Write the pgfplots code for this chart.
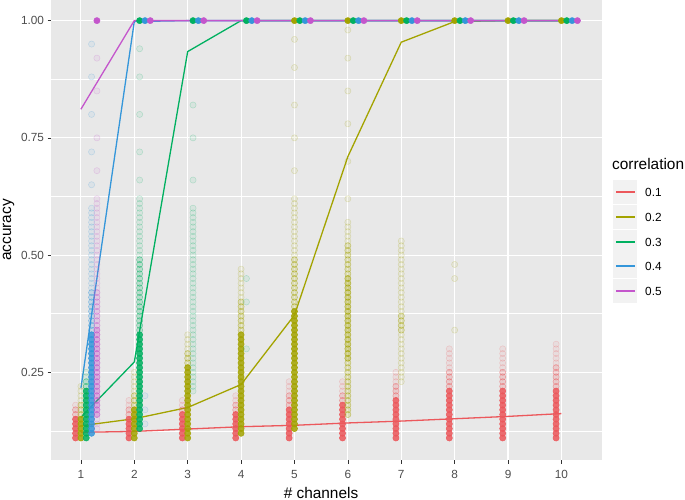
\documentclass[border=0pt]{standalone}
\usepackage{fontspec}
\setmainfont{Liberation Sans}
\usepackage{pgfplots}
\pgfplotsset{compat=1.18}

\definecolor{panel}{RGB}{232,232,232}
\definecolor{keybg}{RGB}{242,242,242}
\definecolor{ticktext}{RGB}{77,77,77}
\definecolor{tickmark}{RGB}{51,51,51}
\definecolor{cred}{RGB}{236,88,92}
\definecolor{colive}{RGB}{163,163,0}
\definecolor{cgreen}{RGB}{0,176,96}
\definecolor{cblue}{RGB}{52,150,218}
\definecolor{cpurple}{RGB}{196,86,204}

\pgfplotsset{
  dense/.style={only marks, mark=*, mark size=3.1bp,
    mark options={draw=#1, fill=#1, line width=0.5bp, draw opacity=0.95, fill opacity=0.85}},
  half/.style={only marks, mark=*, mark size=3.1bp,
    mark options={draw=#1, fill=#1, line width=0.5bp, draw opacity=0.7, fill opacity=0.4}},
  med/.style={only marks, mark=*, mark size=3.1bp,
    mark options={draw=#1, fill=#1, line width=0.5bp, draw opacity=0.5, fill opacity=0.2}},
  faint/.style={only marks, mark=*, mark size=3.1bp,
    mark options={draw=#1, fill=#1, line width=0.5bp, draw opacity=0.22, fill opacity=0.07}},
  top/.style={only marks, mark=*, mark size=3.1bp,
    mark options={draw=#1, fill=#1, line width=0.5bp}},
  ser/.style={#1, line width=1.3bp},
}

\begin{document}
\begin{tikzpicture}
\useasboundingbox (0,0) rectangle (685bp,500bp);
\begin{axis}[
  at={(51bp,40bp)}, anchor=south west,
  scale only axis, width=551bp, height=460bp,
  xmin=0.44, xmax=10.76, ymin=0.063, ymax=1.044,
  axis background/.style={fill=panel},
  axis line style={draw=none},
  xtick={1,2,3,4,5,6,7,8,9,10},
  xticklabels={1,2,3,4,5,6,7,8,9,10},
  ytick={0.25,0.5,0.75,1},
  yticklabels={0.25,0.50,0.75,1.00},
  minor ytick={0.125,0.375,0.625,0.875},
  grid=both,
  major grid style={white, line width=1.1bp},
  minor grid style={white, line width=0.55bp},
  tick align=outside, tick pos=left,
  major tick length=3.5bp, minor tick length=0bp,
  every tick/.style={tickmark, line width=0.55bp},
  ticklabel style={font=\fontsize{11.8bp}{14bp}\selectfont, text=ticktext},
  xticklabel style={yshift=-3bp},
]

% red, 0.1
\addplot[dense=cred] coordinates {
 (0.9,0.11)(0.9,0.12)(0.9,0.13)(0.9,0.14)(0.9,0.15)
 (1.9,0.11)(1.9,0.12)(1.9,0.13)(1.9,0.14)(1.9,0.15)
 (2.9,0.11)(2.9,0.12)(2.9,0.13)(2.9,0.14)(2.9,0.15)(2.9,0.16)
 (3.9,0.11)(3.9,0.12)(3.9,0.13)(3.9,0.14)(3.9,0.15)(3.9,0.16)
 (4.9,0.11)(4.9,0.12)(4.9,0.13)(4.9,0.14)(4.9,0.15)(4.9,0.16)(4.9,0.17)
 (5.9,0.11)(5.9,0.12)(5.9,0.13)(5.9,0.14)(5.9,0.15)(5.9,0.16)(5.9,0.17)(5.9,0.18)
 (6.9,0.11)(6.9,0.12)(6.9,0.13)(6.9,0.14)(6.9,0.15)(6.9,0.16)(6.9,0.17)(6.9,0.18)(6.9,0.19)
 (7.9,0.11)(7.9,0.12)(7.9,0.13)(7.9,0.14)(7.9,0.15)(7.9,0.16)(7.9,0.17)(7.9,0.18)(7.9,0.19)(7.9,0.20)(7.9,0.21)
 (8.9,0.11)(8.9,0.12)(8.9,0.13)(8.9,0.14)(8.9,0.15)(8.9,0.16)(8.9,0.17)(8.9,0.18)(8.9,0.19)(8.9,0.20)(8.9,0.21)
 (9.9,0.11)(9.9,0.12)(9.9,0.13)(9.9,0.14)(9.9,0.15)(9.9,0.16)(9.9,0.17)(9.9,0.18)(9.9,0.19)(9.9,0.20)(9.9,0.21)
};
\addplot[med=cred] coordinates {
 (0.9,0.16)(0.9,0.17)
 (1.9,0.16)(1.9,0.17)
 (2.9,0.17)
 (3.9,0.17)(3.9,0.18)
 (4.9,0.18)(4.9,0.19)(4.9,0.20)
 (5.9,0.19)(5.9,0.20)
 (6.9,0.20)(6.9,0.21)(6.9,0.22)
 (7.9,0.22)(7.9,0.23)(7.9,0.24)(7.9,0.25)
 (8.9,0.22)(8.9,0.23)(8.9,0.24)(8.9,0.25)
 (9.9,0.22)(9.9,0.23)(9.9,0.24)(9.9,0.25)(9.9,0.26)
};
\addplot[faint=cred] coordinates {
 (0.9,0.18)
 (1.9,0.18)(1.9,0.19)
 (2.9,0.18)(2.9,0.19)
 (3.9,0.19)(3.9,0.20)
 (4.9,0.21)(4.9,0.22)(4.9,0.23)
 (5.9,0.21)(5.9,0.22)(5.9,0.23)
 (6.9,0.23)(6.9,0.24)(6.9,0.25)
 (7.9,0.26)(7.9,0.27)(7.9,0.28)(7.9,0.29)(7.9,0.30)
 (8.9,0.26)(8.9,0.27)(8.9,0.28)(8.9,0.29)(8.9,0.30)
 (9.9,0.27)(9.9,0.28)(9.9,0.29)(9.9,0.30)(9.9,0.31)
};

% olive, 0.2
\addplot[dense=colive] coordinates {
 (1,0.11)(1,0.12)(1,0.13)(1,0.14)(1,0.15)
 (2,0.11)(2,0.12)(2,0.13)(2,0.14)(2,0.15)(2,0.16)(2,0.17)
 (3,0.11)(3,0.12)(3,0.13)(3,0.14)(3,0.15)(3,0.16)(3,0.17)(3,0.18)(3,0.19)(3,0.20)(3,0.21)(3,0.22)(3,0.23)(3,0.24)(3,0.25)(3,0.26)
 (4,0.12)(4,0.13)(4,0.14)(4,0.15)(4,0.16)(4,0.17)(4,0.18)(4,0.19)(4,0.20)(4,0.21)(4,0.22)(4,0.23)(4,0.24)(4,0.25)(4,0.26)(4,0.27)(4,0.28)(4,0.29)(4,0.30)(4,0.31)(4,0.32)(4,0.33)
 (5,0.13)(5,0.14)(5,0.15)(5,0.16)(5,0.17)(5,0.18)(5,0.19)(5,0.20)(5,0.21)(5,0.22)(5,0.23)(5,0.24)(5,0.25)(5,0.26)(5,0.27)(5,0.28)(5,0.29)(5,0.30)(5,0.31)(5,0.32)(5,0.33)(5,0.34)(5,0.35)(5,0.36)(5,0.37)(5,0.38)
};
\addplot[half=colive] coordinates {
 (6,0.28)(6,0.29)(6,0.30)(6,0.31)(6,0.32)(6,0.33)(6,0.34)(6,0.35)(6,0.36)(6,0.37)(6,0.38)(6,0.39)(6,0.40)(6,0.41)(6,0.42)(6,0.43)(6,0.44)(6,0.45)
};
\addplot[med=colive] coordinates {
 (1,0.16)(1,0.17)(1,0.18)
 (2,0.18)(2,0.19)(2,0.20)
 (3,0.27)(3,0.28)(3,0.29)
 (4,0.34)(4,0.35)(4,0.36)(4,0.37)(4,0.38)(4,0.39)(4,0.40)
 (5,0.39)(5,0.40)(5,0.41)(5,0.42)(5,0.43)(5,0.44)(5,0.45)(5,0.46)(5,0.47)(5,0.48)(5,0.49)
 (6,0.16)(6,0.17)(6,0.18)(6,0.19)(6,0.20)(6,0.21)(6,0.22)(6,0.23)(6,0.24)(6,0.25)(6,0.26)(6,0.27)
 (6,0.46)(6,0.47)(6,0.48)(6,0.49)(6,0.50)(6,0.51)(6,0.52)
 (7,0.34)(7,0.35)(7,0.36)(7,0.37)
};
\addplot[faint=colive] coordinates {
 (1,0.19)(1,0.20)(1,0.21)(1,0.22)
 (2,0.21)(2,0.22)(2,0.23)(2,0.24)(2,0.25)
 (3,0.30)(3,0.31)(3,0.32)(3,0.33)
 (4,0.41)(4,0.42)(4,0.43)(4,0.44)(4,0.45)(4,0.46)(4,0.47)
 (5,0.50)(5,0.51)(5,0.52)(5,0.53)(5,0.54)(5,0.55)(5,0.56)(5,0.57)(5,0.58)(5,0.59)(5,0.60)(5,0.61)(5,0.62)
 (5,0.68)(5,0.75)(5,0.82)(5,0.90)(5,0.96)
 (6,0.53)(6,0.54)(6,0.55)(6,0.56)(6,0.57)(6,0.62)(6,0.70)(6,0.78)(6,0.85)(6,0.92)(6,0.98)
 (7,0.23)(7,0.24)(7,0.25)(7,0.26)(7,0.27)(7,0.28)(7,0.29)(7,0.30)(7,0.31)(7,0.32)(7,0.33)
 (7,0.38)(7,0.39)(7,0.40)(7,0.41)(7,0.42)(7,0.43)(7,0.44)(7,0.45)(7,0.46)(7,0.47)(7,0.48)(7,0.49)(7,0.50)(7,0.51)(7,0.52)(7,0.53)
 (8,0.34)(8,0.45)(8,0.48)
};

% green, 0.3
\addplot[dense=cgreen] coordinates {
 (1.1,0.11)(1.1,0.12)(1.1,0.13)(1.1,0.14)(1.1,0.15)(1.1,0.16)(1.1,0.17)(1.1,0.18)(1.1,0.19)(1.1,0.20)(1.1,0.21)
 (2.1,0.13)(2.1,0.14)(2.1,0.15)(2.1,0.16)(2.1,0.17)(2.1,0.18)(2.1,0.19)(2.1,0.20)(2.1,0.21)(2.1,0.22)(2.1,0.23)
 (2.1,0.24)(2.1,0.25)(2.1,0.26)(2.1,0.27)(2.1,0.28)(2.1,0.29)(2.1,0.30)(2.1,0.31)(2.1,0.32)(2.1,0.33)
};
\addplot[med=cgreen] coordinates {
 (1.1,0.22)(1.1,0.23)
 (2.1,0.34)(2.1,0.35)(2.1,0.36)(2.1,0.37)(2.1,0.38)(2.1,0.39)(2.1,0.40)(2.1,0.41)(2.1,0.42)(2.1,0.43)(2.1,0.44)(2.1,0.45)(2.1,0.46)(2.1,0.47)(2.1,0.48)(2.1,0.49)
};
\addplot[faint=cgreen] coordinates {
 (1.1,0.24)(1.1,0.25)
 (2.1,0.50)(2.1,0.51)(2.1,0.52)(2.1,0.53)(2.1,0.54)(2.1,0.55)(2.1,0.56)(2.1,0.57)(2.1,0.58)(2.1,0.59)(2.1,0.60)(2.1,0.61)(2.1,0.62)
 (2.1,0.66)(2.1,0.72)(2.1,0.80)(2.1,0.88)(2.1,0.94)
 (3.1,0.21)(3.1,0.22)(3.1,0.23)(3.1,0.24)(3.1,0.25)(3.1,0.26)(3.1,0.27)(3.1,0.28)(3.1,0.29)(3.1,0.30)(3.1,0.31)(3.1,0.32)(3.1,0.33)(3.1,0.34)
 (3.1,0.35)(3.1,0.36)(3.1,0.37)(3.1,0.38)(3.1,0.39)(3.1,0.40)(3.1,0.41)(3.1,0.42)(3.1,0.43)(3.1,0.44)(3.1,0.45)(3.1,0.46)(3.1,0.47)
 (3.1,0.48)(3.1,0.49)(3.1,0.50)(3.1,0.51)(3.1,0.52)(3.1,0.53)(3.1,0.54)(3.1,0.55)(3.1,0.56)(3.1,0.57)(3.1,0.58)(3.1,0.59)(3.1,0.60)
 (3.1,0.66)(3.1,0.75)(3.1,0.82)
 (4.1,0.30)(4.1,0.40)(4.1,0.45)
};

% blue, 0.4
\addplot[dense=cblue] coordinates {
 (1.2,0.12)(1.2,0.13)(1.2,0.14)(1.2,0.15)(1.2,0.16)(1.2,0.17)(1.2,0.18)(1.2,0.19)(1.2,0.20)(1.2,0.21)(1.2,0.22)
 (1.2,0.23)(1.2,0.24)(1.2,0.25)(1.2,0.26)(1.2,0.27)(1.2,0.28)(1.2,0.29)(1.2,0.30)(1.2,0.31)(1.2,0.32)(1.2,0.33)
};
\addplot[med=cblue] coordinates {
 (1.2,0.34)(1.2,0.35)(1.2,0.36)(1.2,0.37)(1.2,0.38)(1.2,0.39)(1.2,0.40)(1.2,0.41)(1.2,0.42)
};
\addplot[faint=cblue] coordinates {
 (1.2,0.43)(1.2,0.44)(1.2,0.45)(1.2,0.46)(1.2,0.47)(1.2,0.48)(1.2,0.49)(1.2,0.50)(1.2,0.51)(1.2,0.52)(1.2,0.53)
 (1.2,0.54)(1.2,0.55)(1.2,0.56)(1.2,0.57)(1.2,0.58)(1.2,0.59)(1.2,0.60)
 (1.2,0.65)(1.2,0.72)(1.2,0.80)(1.2,0.88)(1.2,0.95)
 (2.2,0.14)(2.2,0.17)(2.2,0.20)
};

% purple, 0.5
\addplot[half=cpurple] coordinates {
 (1.3,0.16)(1.3,0.17)(1.3,0.18)(1.3,0.19)(1.3,0.20)(1.3,0.21)(1.3,0.22)(1.3,0.23)(1.3,0.24)(1.3,0.25)
 (1.3,0.26)(1.3,0.27)(1.3,0.28)(1.3,0.29)(1.3,0.30)(1.3,0.31)(1.3,0.32)(1.3,0.33)(1.3,0.34)
};
\addplot[med=cpurple] coordinates {
 (1.3,0.35)(1.3,0.36)(1.3,0.37)(1.3,0.38)(1.3,0.39)(1.3,0.40)(1.3,0.41)(1.3,0.42)
};
\addplot[faint=cpurple] coordinates {
 (1.3,0.13)(1.3,0.14)(1.3,0.15)
 (1.3,0.43)(1.3,0.44)(1.3,0.45)(1.3,0.46)(1.3,0.47)(1.3,0.48)(1.3,0.49)(1.3,0.50)(1.3,0.51)(1.3,0.52)
 (1.3,0.53)(1.3,0.54)(1.3,0.55)(1.3,0.56)(1.3,0.57)(1.3,0.58)(1.3,0.59)(1.3,0.60)(1.3,0.61)(1.3,0.62)
 (1.3,0.68)(1.3,0.75)(1.3,0.85)(1.3,0.92)
};

% mean accuracy lines
\addplot[ser=cred] coordinates {(1,0.122) (2,0.124) (3,0.129) (4,0.134) (5,0.137) (6,0.142) (7,0.146) (8,0.151) (9,0.156) (10,0.162)};
\addplot[ser=colive] coordinates {(1,0.136) (2,0.151) (3,0.175) (4,0.224) (5,0.372) (6,0.710) (7,0.954) (8,0.998) (9,1) (10,1)};
\addplot[ser=cgreen] coordinates {(1,0.154) (2,0.272) (3,0.934) (4,1) (5,1) (6,1) (7,1) (8,1) (9,1) (10,1)};
\addplot[ser=cblue] coordinates {(1,0.216) (2,0.998) (3,1) (4,1) (5,1) (6,1) (7,1) (8,1) (9,1) (10,1)};
\addplot[ser=cpurple] coordinates {(1,0.811) (2,1) (3,1) (4,1) (5,1) (6,1) (7,1) (8,1) (9,1) (10,1)};

% runs that reached full accuracy
\addplot[top=colive] coordinates {(5,1) (6,1) (7,1) (8,1) (9,1) (10,1)};
\addplot[top=cgreen] coordinates {(2.1,1) (3.1,1) (4.1,1) (5.1,1) (6.1,1) (7.1,1) (8.1,1) (9.1,1) (10.1,1)};
\addplot[top=cblue] coordinates {(2.2,1) (3.2,1) (4.2,1) (5.2,1) (6.2,1) (7.2,1) (8.2,1) (9.2,1) (10.2,1)};
\addplot[top=cpurple] coordinates {(1.3,1) (2.3,1) (3.3,1) (4.3,1) (5.3,1) (6.3,1) (7.3,1) (8.3,1) (9.3,1) (10.3,1)};
\end{axis}

% axis titles
\node[rotate=90, inner sep=0pt, font=\fontsize{15.4bp}{18bp}\selectfont] at (8.5bp,270bp) {accuracy};
\node[anchor=base, inner sep=0pt, font=\fontsize{15.4bp}{18bp}\selectfont] at (321bp,2bp) {\# channels};

% legend
\node[anchor=base west, inner sep=0pt, font=\fontsize{15.4bp}{18bp}\selectfont] at (612bp,330bp) {correlation};
\foreach \col/\lab/\yy in {cred/0.1/308, colive/0.2/283, cgreen/0.3/258, cblue/0.4/234, cpurple/0.5/209} {
  \fill[keybg] (613bp,\yy bp-11.8bp) rectangle (637bp,\yy bp+11.8bp);
  \fill[fill=\col] (615.5bp,\yy bp-0.75bp) rectangle (634.5bp,\yy bp+0.75bp);
  \node[anchor=base west, inner sep=0pt, font=\fontsize{11.8bp}{14bp}\selectfont] at (645bp,\yy bp-4.6bp) {\lab};
}
\end{tikzpicture}
\end{document}
